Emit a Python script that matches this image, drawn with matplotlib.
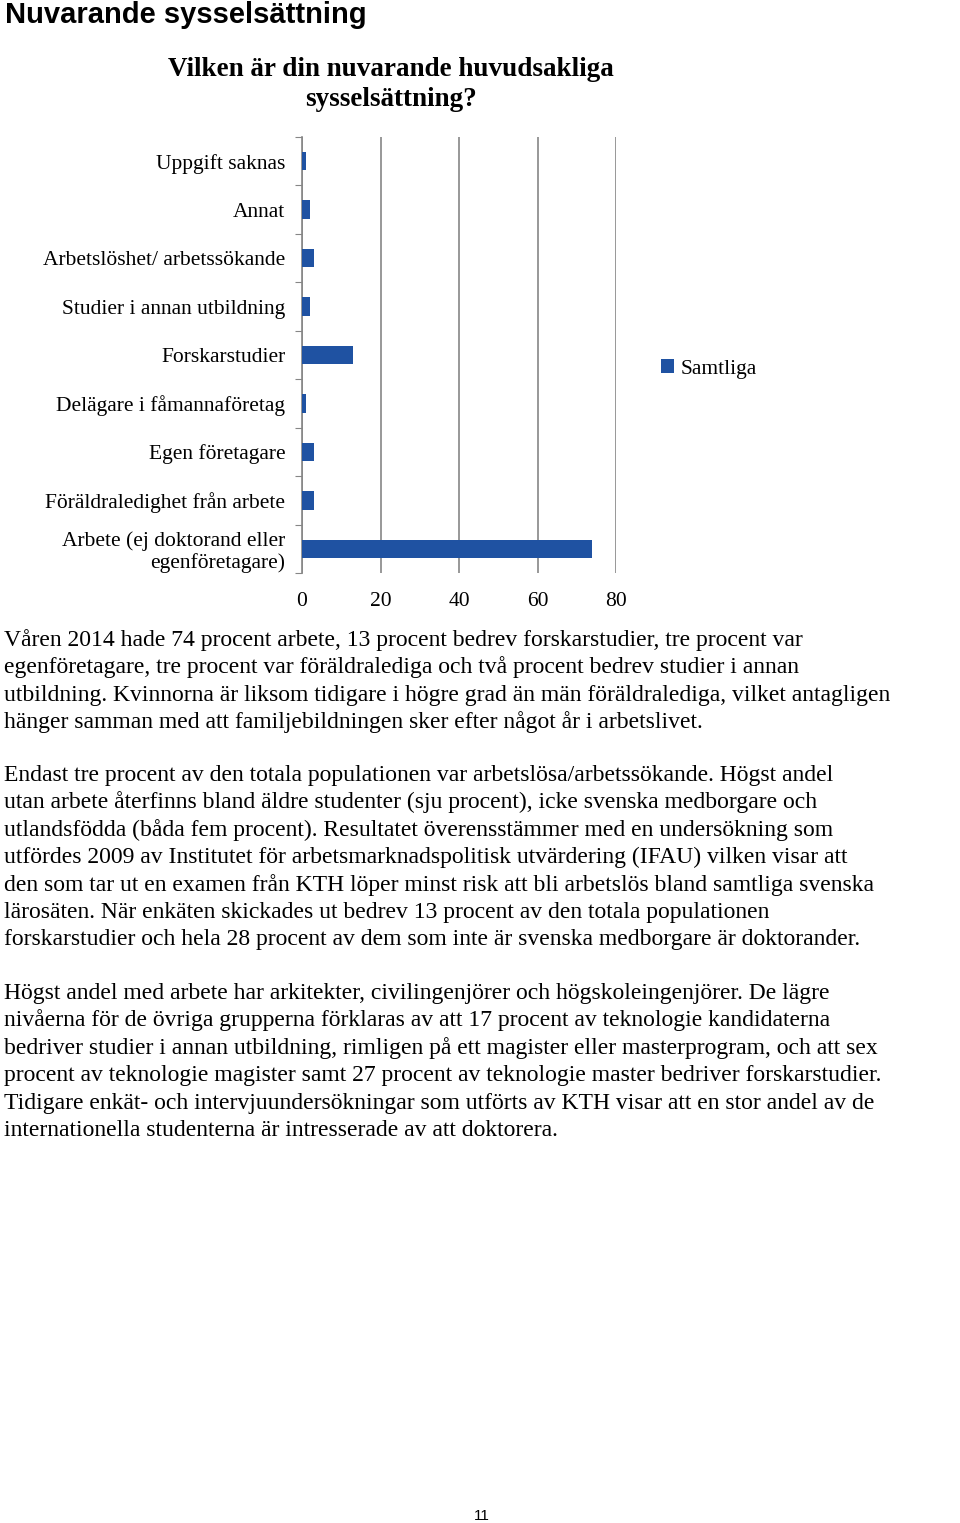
import matplotlib.pyplot as plt

# Data
categories = ['Uppgift saknas', 'Annat', 'Arbetslöshet/ arbetssökande',
              'Studier i annan utbildning', 'Forskarstudier',
              'Delägare i fåmannaföretag', 'Egen företagare',
              'Föräldraledighet från arbete',
              'Arbete (ej doktorand eller\negenföretagare)']
samtliga = [1, 2, 3, 2, 13, 1, 3, 3, 74]
xticks = [0, 20, 40, 60, 80]

para1 = [
    "Våren 2014 hade 74 procent arbete, 13 procent bedrev forskarstudier, tre procent var",
    "egenföretagare, tre procent var föräldralediga och två procent bedrev studier i annan",
    "utbildning. Kvinnorna är liksom tidigare i högre grad än män föräldralediga, vilket antagligen",
    "hänger samman med att familjebildningen sker efter något år i arbetslivet.",
]
para2 = [
    "Endast tre procent av den totala populationen var arbetslösa/arbetssökande. Högst andel",
    "utan arbete återfinns bland äldre studenter (sju procent), icke svenska medborgare och",
    "utlandsfödda (båda fem procent). Resultatet överensstämmer med en undersökning som",
    "utfördes 2009 av Institutet för arbetsmarknadspolitisk utvärdering (IFAU) vilken visar att",
    "den som tar ut en examen från KTH löper minst risk att bli arbetslös bland samtliga svenska",
    "lärosäten. När enkäten skickades ut bedrev 13 procent av den totala populationen",
    "forskarstudier och hela 28 procent av dem som inte är svenska medborgare är doktorander.",
]
para3 = [
    "Högst andel med arbete har arkitekter, civilingenjörer och högskoleingenjörer. De lägre",
    "nivåerna för de övriga grupperna förklaras av att 17 procent av teknologie kandidaterna",
    "bedriver studier i annan utbildning, rimligen på ett magister eller masterprogram, och att sex",
    "procent av teknologie magister samt 27 procent av teknologie master bedriver forskarstudier.",
    "Tidigare enkät- och intervjuundersökningar som utförts av KTH visar att en stor andel av de",
    "internationella studenterna är intresserade av att doktorera.",
]

W, H = 960, 1523
fig = plt.figure(figsize=(W / 100, H / 100), dpi=100)
serif = 'Liberation Serif'
gray = '#868686'
blue = '#1f52a2'


def fy(y):
    return 1 - y / H


# page header
fig.text(5 / W, fy(15), 'Nuvarande sysselsättning', family='Liberation Sans',
         weight='bold', fontsize=21, va='center', ha='left')

# chart title
fig.text(391 / W, fy(70), 'Vilken är din nuvarande huvudsakliga', family=serif,
         weight='bold', fontsize=19.5, va='center', ha='center')
fig.text(391 / W, fy(99), 'sysselsättning?', family=serif,
         weight='bold', fontsize=19.5, va='center', ha='center')

# chart
ax = fig.add_axes([302 / W, fy(573), (616 - 302) / W, (573 - 137) / H])
pos = list(range(len(categories)))
ax.barh(pos, samtliga, height=0.38, color=blue, label='Samtliga', zorder=3)
ax.set_ylim(len(categories) - 0.5, -0.5)
ax.set_xlim(0, 80)
ax.set_xticks(xticks)
ax.set_xticklabels([str(v) for v in xticks], family=serif, fontsize=15.5)
ax.tick_params(axis='x', length=0, pad=14)
ax.set_yticks([p - 0.5 for p in pos] + [len(categories) - 0.5])
ax.set_yticklabels([])
ax.tick_params(axis='y', which='major', length=5, color=gray, direction='out')
ax.set_yticks(pos, minor=True)
ax.set_yticklabels(categories, minor=True, family=serif, fontsize=15.5,
                   linespacing=1.15)
ax.tick_params(axis='y', which='minor', length=0, pad=12)
ax.grid(axis='x', color=gray, lw=1.2, zorder=0)
for s in ['top', 'right', 'bottom']:
    ax.spines[s].set_visible(False)
ax.spines['left'].set_color(gray)
ax.spines['left'].set_linewidth(1.2)

ax.legend(loc='center left', bbox_to_anchor=(661 / W, fy(369)),
          bbox_transform=fig.transFigure, frameon=False, borderpad=0,
          borderaxespad=0, prop={'family': serif, 'size': 15.5},
          handlelength=0.6, handleheight=0.6, handletextpad=0.3)

# body text
lh = 27.4
for start, lines in [(646, para1), (781, para2), (999, para3)]:
    for i, line in enumerate(lines):
        fig.text(4 / W, fy(start + i * lh), line, family=serif, fontsize=17,
                 va='baseline', ha='left')

# page number
fig.text(482 / W, fy(1516), '11', family='Liberation Sans', fontsize=11,
         va='center', ha='center')

fig.savefig('out.png', dpi=100)
